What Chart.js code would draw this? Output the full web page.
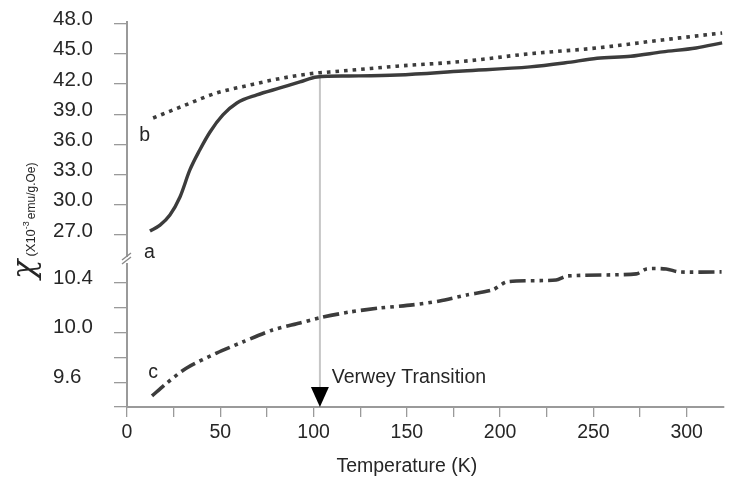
<!DOCTYPE html>
<html><head><meta charset="utf-8">
<script src="https://cdn.jsdelivr.net/npm/chart.js@4/dist/chart.umd.min.js"></script>
<style>html,body{margin:0;padding:0;background:#fff;}#wrap{width:733px;height:482px;}</style>
</head><body><div id="wrap"><canvas id="c" width="733" height="482"></canvas></div>
<script>
// Curve a (solid)
const tempA = [12.3, 17.7, 23, 28.4, 33.7, 39, 44.5, 51.4, 58.9, 69.6, 82, 92.7, 101.8, 119, 145, 180, 216, 235, 252, 270, 287, 305, 319];
const chiA  = [27.40, 27.99, 28.99, 30.78, 33.46, 35.44, 37.23, 38.92, 40.11, 40.91, 41.60, 42.20, 42.69, 42.79, 42.89, 43.29, 43.69, 44.1, 44.55, 44.75, 45.18, 45.57, 46.07];
// Curve b (dotted)
const tempB = [14, 30, 48, 66, 83.6, 101.8, 108.7, 144.6, 180, 216, 251.7, 287, 319];
const chiB  = [38.62, 39.81, 41.10, 41.90, 42.59, 43.09, 43.19, 43.76, 44.24, 45.0, 45.57, 46.37, 47.06];
// Curve c (dash-dot-dot)
const tempC = [13.4, 21.4, 32, 48, 62, 78, 92.7, 103, 119.4, 135.5, 153, 167.6, 182, 196, 203.5, 230, 235.7, 273, 278.5, 289, 296, 318.7];
const chiC  = [9.489, 9.594, 9.715, 9.835, 9.924, 10.021, 10.077, 10.118, 10.166, 10.198, 10.223, 10.255, 10.303, 10.344, 10.408, 10.424, 10.456, 10.473, 10.513, 10.513, 10.489, 10.489];

const upperTicks = [27, 30, 33, 36, 39, 42, 45, 48];
const lowerTicks = [9.4, 9.6, 9.8, 10.0, 10.2, 10.4];
const lowerTickLabels = ['', '9.6', '', '10.0', '', '10.4'];
const xTicks = [0, 25, 50, 75, 100, 125, 150, 175, 200, 225, 250, 275, 300];
const xTickLabels = ['0', '', '50', '', '100', '', '150', '', '200', '', '250', '', '300'];

const verweyT = 103.4;
const verweyChi = 42.75;

const FONT = '"Liberation Sans", Arial, Helvetica, sans-serif';
const TXT = '#262626';
const LINE = '#3c3c3c';
const AXIS = '#9a9a9a';

function pts(xs, ys) { return xs.map((t, i) => ({x: t, y: ys[i]})); }

const overlay = {
  id: 'overlay',
  beforeDatasetsDraw(chart) {
    const {ctx, scales: {x, yHigh}} = chart;
    const vx = x.getPixelForValue(verweyT);
    ctx.save();
    ctx.strokeStyle = '#c6c6c6';
    ctx.lineWidth = 2;
    ctx.beginPath();
    ctx.moveTo(vx, yHigh.getPixelForValue(verweyChi));
    ctx.lineTo(vx, x.top - 18);
    ctx.stroke();
    ctx.restore();
  },
  afterDraw(chart) {
    const {ctx, scales: {x, yHigh, yLow}} = chart;
    ctx.save();
    // axis break marks
    const yb = yHigh.bottom;
    const xa = x.left;
    ctx.fillStyle = '#fff';
    ctx.fillRect(xa - 3, yb - 3, 6, 6);
    ctx.strokeStyle = '#8a8a8a';
    ctx.lineWidth = 1.4;
    ctx.beginPath();
    ctx.moveTo(xa - 5, yb); ctx.lineTo(xa + 4, yb - 7);
    ctx.moveTo(xa - 5, yb + 4); ctx.lineTo(xa + 4, yb - 3);
    ctx.stroke();

    // Verwey arrow
    const vx = x.getPixelForValue(verweyT);
    const base = x.top;
    ctx.fillStyle = '#000';
    ctx.beginPath();
    ctx.moveTo(vx - 9, base - 20);
    ctx.lineTo(vx + 9, base - 20);
    ctx.lineTo(vx, base);
    ctx.closePath();
    ctx.fill();

    ctx.fillStyle = TXT;
    ctx.font = '19.5px ' + FONT;
    ctx.textBaseline = 'middle';
    ctx.textAlign = 'left';
    ctx.fillText('Verwey Transition', x.getPixelForValue(109.8), yLow.getPixelForValue(9.634));

    // curve labels
    ctx.textAlign = 'center';
    ctx.fillText('a', x.getPixelForValue(12), yHigh.getPixelForValue(25.3));
    ctx.fillText('b', x.getPixelForValue(9.5), yHigh.getPixelForValue(36.9));
    ctx.fillText('c', x.getPixelForValue(14), yLow.getPixelForValue(9.68));

    // x title
    ctx.font = '19.5px ' + FONT;
    ctx.fillText('Temperature (K)', x.getPixelForValue(150), x.bottom - 15);

    // y title (rotated)
    ctx.translate(34, 279);
    ctx.rotate(-Math.PI / 2);
    ctx.textAlign = 'left';
    ctx.textBaseline = 'alphabetic';
    ctx.font = 'italic 32px "DejaVu Serif", "Liberation Serif", serif';
    ctx.fillText('\u03C7', 0, 0);
    let cx = ctx.measureText('\u03C7').width + 3;
    ctx.font = '13px ' + FONT;
    ctx.fillText('(X10', cx, 1);
    cx += ctx.measureText('(X10').width;
    ctx.font = '9px ' + FONT;
    ctx.fillText('-3', cx, -5);
    cx += ctx.measureText('-3').width + 2;
    ctx.font = '12px ' + FONT;
    ctx.fillText('emu/g.Oe)', cx, 1);
    ctx.restore();
  }
};

new Chart(document.getElementById('c'), {
  type: 'line',
  data: {
    datasets: [
      { label: 'a', data: pts(tempA, chiA), yAxisID: 'yHigh', borderColor: LINE, borderWidth: 3.4,
        pointRadius: 0, cubicInterpolationMode: 'monotone', fill: false },
      { label: 'b', data: pts(tempB, chiB), yAxisID: 'yHigh', borderColor: LINE, borderWidth: 3.6,
        borderDash: [3.6, 5], borderCapStyle: 'butt', pointRadius: 0, cubicInterpolationMode: 'monotone', fill: false },
      { label: 'c', data: pts(tempC, chiC), yAxisID: 'yLow', borderColor: LINE, borderWidth: 3.6,
        borderDash: [16, 5, 3.6, 5, 3.6, 5], borderCapStyle: 'butt', pointRadius: 0, tension: 0.25, fill: false }
    ]
  },
  options: {
    responsive: false,
    animation: false,
    devicePixelRatio: 1,
    layout: { padding: { left: 53, right: 9, top: 22, bottom: 0 } },
    plugins: { legend: { display: false }, tooltip: { enabled: false } },
    scales: {
      x: {
        type: 'linear', min: 0, max: 320, position: 'bottom',
        afterBuildTicks: s => { s.ticks = xTicks.map(v => ({value: v})); },
        afterFit: s => { s.height = 75; },
        ticks: { autoSkip: false, maxRotation: 0, padding: 4, color: TXT, font: { family: FONT, size: 19.5 },
          callback: (v) => xTickLabels[xTicks.indexOf(v)] },
        grid: { drawOnChartArea: false, tickLength: 10, color: AXIS, lineWidth: 1.3 },
        border: { color: AXIS, width: 2 }
      },
      yLow: {
        type: 'linear', position: 'left', stack: 'chi', stackWeight: 147, weight: 0,
        min: 9.4, max: 10.585,
        afterBuildTicks: s => { s.ticks = lowerTicks.map(v => ({value: v})); },
        afterFit: s => { s.width = 74; },
        ticks: { autoSkip: false, crossAlign: 'far', labelOffset: -5, color: TXT, font: { family: FONT, size: 20.5 },
          callback: (v) => lowerTickLabels[lowerTicks.findIndex(t => Math.abs(t - v) < 1e-6)] },
        grid: { drawOnChartArea: false, tickLength: 13, color: AXIS, lineWidth: 1.3 },
        border: { color: AXIS, width: 2 }
      },
      yHigh: {
        type: 'linear', position: 'left', stack: 'chi', stackWeight: 238, weight: 1,
        min: 24.52, max: 48.15,
        afterBuildTicks: s => { s.ticks = upperTicks.map(v => ({value: v})); },
        afterFit: s => { s.width = 74; },
        ticks: { autoSkip: false, crossAlign: 'far', labelOffset: -4, color: TXT, font: { family: FONT, size: 20.5 },
          callback: (v) => v.toFixed(1) },
        grid: { drawOnChartArea: false, tickLength: 13, color: AXIS, lineWidth: 1.3 },
        border: { color: AXIS, width: 2 }
      }
    }
  },
  plugins: [overlay]
});
</script>
</body></html>
